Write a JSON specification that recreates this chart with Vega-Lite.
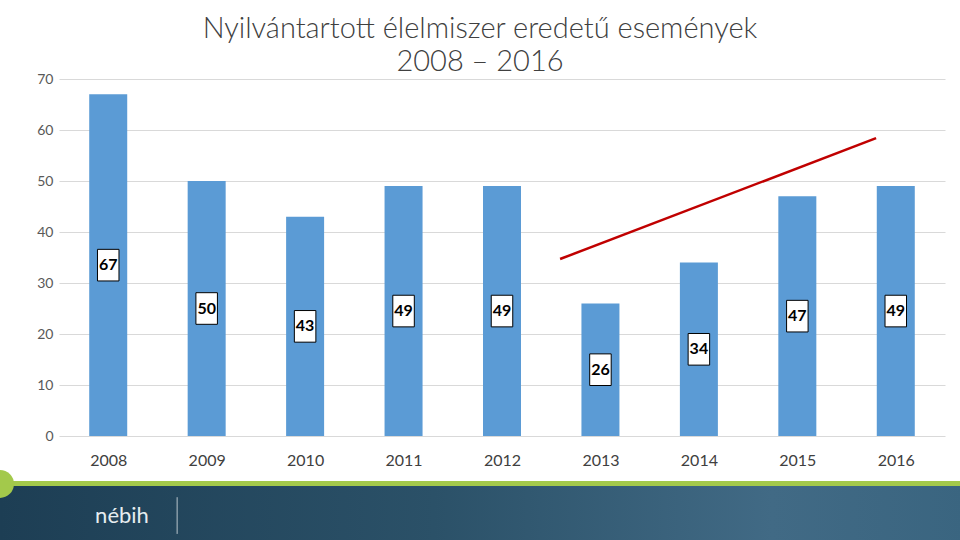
{
  "$schema": "https://vega.github.io/schema/vega-lite/v6.json",
  "autosize": {"type": "none"},
  "width": 886,
  "height": 357,
  "padding": {"left": 59, "top": 79, "right": 15, "bottom": 104},
  "background": "white",
  "title": {
    "text": ["Nyilvántartott élelmiszer eredetű események", "2008 – 2016"],
    "anchor": "middle",
    "frame": "group",
    "dx": -22,
    "offset": -5,
    "fontSize": 29,
    "font": "Lato",
    "fontWeight": 300,
    "color": "#404040",
    "lineHeight": 33
  },
  "config": {
    "view": {"stroke": null},
    "font": "Lato"
  },
  "datasets": {
    "events": [
      {"year": 2008, "value": 67},
      {"year": 2009, "value": 50},
      {"year": 2010, "value": 43},
      {"year": 2011, "value": 49},
      {"year": 2012, "value": 49},
      {"year": 2013, "value": 26},
      {"year": 2014, "value": 34},
      {"year": 2015, "value": 47},
      {"year": 2016, "value": 49}
    ],
    "trend": [
      {"year": 2012.59, "value": 34.7},
      {"year": 2015.8, "value": 58.4}
    ],
    "footer": [
      {"x1": 2006.9, "x2": 2016.7, "y1": -9.7, "y2": -20.6}
    ],
    "stripe": [
      {"x1": 2006.9, "x2": 2016.7, "y1": -8.8, "y2": -9.8}
    ],
    "dot": [
      {"x": 2006.9, "y": -9.4}
    ],
    "logo": [
      {"x": 2008.14, "y": -15.6, "label": "nébih"}
    ],
    "divider": [
      {"x": 2008.7, "y1": -12, "y2": -19.2}
    ]
  },
  "layer": [
    {
      "data": {"name": "events"},
      "mark": {"type": "bar", "width": 38, "color": "#5b9bd5"},
      "encoding": {
        "x": {
          "field": "year", "type": "quantitative",
          "scale": {"domain": [2007.5, 2016.5], "nice": false, "zero": false, "padding": 0},
          "axis": {
            "title": null, "values": [2008, 2009, 2010, 2011, 2012, 2013, 2014, 2015, 2016],
            "format": "d", "grid": false, "domain": false, "ticks": false,
            "labelFontSize": 16, "labelColor": "#404040", "labelPadding": 16, "labelFont": "Lato"
          }
        },
        "y": {
          "field": "value", "type": "quantitative",
          "scale": {"domain": [0, 70], "nice": false, "padding": 0},
          "axis": {
            "title": null, "values": [0, 10, 20, 30, 40, 50, 60, 70],
            "domain": false, "ticks": false, "gridColor": "#d9d9d9", "gridWidth": 1,
            "labelFontSize": 14, "labelColor": "#595959", "labelPadding": 6, "labelFont": "Lato"
          }
        }
      }
    },
    {
      "data": {"name": "events"},
      "transform": [{"calculate": "datum.value / 2", "as": "half"}],
      "mark": {
        "type": "point", "filled": true, "fill": "white", "stroke": "black", "strokeWidth": 1, "opacity": 1,
        "shape": "M -0.68 -1 L 0.68 -1 L 0.68 1 L -0.68 1 Z", "size": 1000
      },
      "encoding": {
        "x": {"field": "year", "type": "quantitative"},
        "y": {"field": "half", "type": "quantitative"}
      }
    },
    {
      "data": {"name": "events"},
      "transform": [{"calculate": "datum.value / 2", "as": "half"}],
      "mark": {"type": "text", "fontSize": 16, "fontWeight": "bold", "font": "Lato", "color": "black", "baseline": "middle"},
      "encoding": {
        "x": {"field": "year", "type": "quantitative"},
        "y": {"field": "half", "type": "quantitative"},
        "text": {"field": "value", "type": "quantitative"}
      }
    },
    {
      "data": {"name": "trend"},
      "mark": {"type": "line", "color": "#c00000", "strokeWidth": 2.5},
      "encoding": {
        "x": {"field": "year", "type": "quantitative"},
        "y": {"field": "value", "type": "quantitative"}
      }
    },
    {
      "data": {"name": "footer"},
      "mark": {
        "type": "rect",
        "color": {
          "gradient": "linear", "x1": 0, "y1": 0, "x2": 1, "y2": 0,
          "stops": [
            {"offset": 0, "color": "#1d3e54"},
            {"offset": 0.45, "color": "#2b5168"},
            {"offset": 0.8, "color": "#416a85"},
            {"offset": 1, "color": "#3a6580"}
          ]
        }
      },
      "encoding": {
        "x": {"field": "x1", "type": "quantitative"},
        "x2": {"field": "x2"},
        "y": {"field": "y1", "type": "quantitative"},
        "y2": {"field": "y2"}
      }
    },
    {
      "data": {"name": "stripe"},
      "mark": {"type": "rect", "color": "#a3c94b"},
      "encoding": {
        "x": {"field": "x1", "type": "quantitative"},
        "x2": {"field": "x2"},
        "y": {"field": "y1", "type": "quantitative"},
        "y2": {"field": "y2"}
      }
    },
    {
      "data": {"name": "dot"},
      "mark": {"type": "point", "shape": "circle", "filled": true, "color": "#a3c94b", "opacity": 1, "size": 784},
      "encoding": {
        "x": {"field": "x", "type": "quantitative"},
        "y": {"field": "y", "type": "quantitative"}
      }
    },
    {
      "data": {"name": "logo"},
      "mark": {"type": "text", "fontSize": 22, "font": "Lato", "color": "#e6edf0", "baseline": "middle"},
      "encoding": {
        "x": {"field": "x", "type": "quantitative"},
        "y": {"field": "y", "type": "quantitative"},
        "text": {"field": "label"}
      }
    },
    {
      "data": {"name": "divider"},
      "mark": {"type": "rule", "color": "#b8c4cc", "strokeWidth": 1},
      "encoding": {
        "x": {"field": "x", "type": "quantitative"},
        "y": {"field": "y1", "type": "quantitative"},
        "y2": {"field": "y2"}
      }
    }
  ]
}
